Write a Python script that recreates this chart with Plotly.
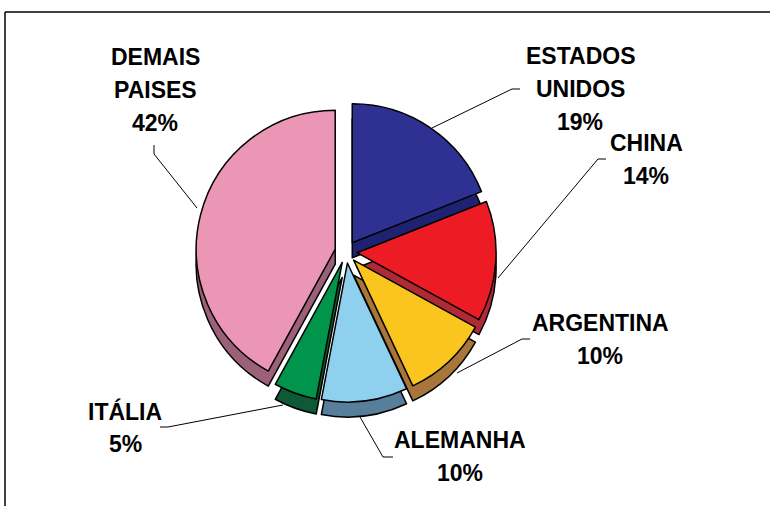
import plotly.graph_objects as go

# shares of each destination (%), clockwise from 12 o'clock
paises = ["ESTADOS UNIDOS", "CHINA", "ARGENTINA", "ALEMANHA", "ITÁLIA", "DEMAIS PAISES"]
valores = [19, 14, 10, 10, 5, 42]
cores_topo = ["#2E3192", "#ED1C24", "#FAC51E", "#8ED0EE", "#00954A", "#EC96B5"]
cores_lado = ["#1F2270", "#B02A35", "#A8763A", "#577E9B", "#0E5A36", "#9C6078"]

W, H = 770, 506
CX, CY = 346, 252      # pie centre in pixels
R = 139                # pie radius in pixels
PULL = 0.08
DEPTH = 15             # thickness of the fake 3d side


def px(x):
    return x / W


def py(y):
    return 1 - y / H


def pie_domain(cy):
    half = R * (1 + PULL)
    return dict(x=[px(CX - half), px(CX + half)], y=[py(cy + half), py(cy - half)])


fig = go.Figure()

# side of the pie, drawn first and shifted down
fig.add_trace(go.Pie(labels=paises, values=valores, sort=False, direction="clockwise",
                     rotation=0, pull=[PULL] * len(valores), textinfo="none",
                     hoverinfo="skip", domain=pie_domain(CY + DEPTH),
                     marker=dict(colors=cores_lado, line=dict(color="black", width=1.5))))
# top face
fig.add_trace(go.Pie(labels=paises, values=valores, sort=False, direction="clockwise",
                     rotation=0, pull=[PULL] * len(valores), textinfo="none",
                     domain=pie_domain(CY),
                     marker=dict(colors=cores_topo, line=dict(color="black", width=1.5))))

# label layout: text centre, first line y, leader line points (anchor -> elbow -> end)
rotulos = {
    "ESTADOS UNIDOS": dict(x=580, y=56, linhas=["ESTADOS", "UNIDOS"],
                           linha=[(432, 128), (512, 89), (520, 89)]),
    "CHINA": dict(x=646, y=143, linhas=["CHINA"],
                  linha=[(498, 278), (598, 159), (606, 159)]),
    "ARGENTINA": dict(x=600, y=323, linhas=["ARGENTINA"],
                      linha=[(457, 373), (522, 339), (530, 339)]),
    "ALEMANHA": dict(x=460, y=440, linhas=["ALEMANHA"],
                     linha=[(360, 417), (383, 457), (393, 457)]),
    "ITÁLIA": dict(x=125, y=411, linhas=["ITÁLIA"],
                   linha=[(283, 405), (168, 427), (160, 427)]),
    "DEMAIS PAISES": dict(x=155, y=57, linhas=["DEMAIS", "PAISES"],
                          linha=[(197, 208), (154, 154), (154, 145)]),
}

PASSO = 33
fonte = dict(family="Liberation Sans, Arial, sans-serif", size=23, color="black")

for nome, v in zip(paises, valores):
    r = rotulos[nome]
    linhas = r["linhas"] + [f"{v}%"]
    for i, t in enumerate(linhas):
        fig.add_annotation(x=px(r["x"]), y=py(r["y"] + i * PASSO), xref="paper", yref="paper",
                           text=f"<b>{t}</b>", showarrow=False, font=fonte,
                           xanchor="center", yanchor="middle")
    pts = r["linha"]
    path = "M " + " L ".join(f"{px(a)},{py(b)}" for a, b in pts)
    fig.add_shape(type="path", path=path, xref="paper", yref="paper",
                  line=dict(color="black", width=1))

# frame (top and left edges of the original chart area)
fig.add_shape(type="line", xref="paper", yref="paper", x0=px(5), y0=py(12), x1=1, y1=py(12),
              line=dict(color="black", width=1.5))
fig.add_shape(type="line", xref="paper", yref="paper", x0=px(5), y0=py(12), x1=px(5), y1=0,
              line=dict(color="black", width=1.5))

fig.update_layout(width=W, height=H, margin=dict(l=0, r=0, t=0, b=0),
                  showlegend=False, paper_bgcolor="white", plot_bgcolor="white")

# drop the page's default body margin so the figure sits at the window corner
fig.write_html("out.html", config={"displayModeBar": False},
               post_script="document.body.style.margin='0';")
